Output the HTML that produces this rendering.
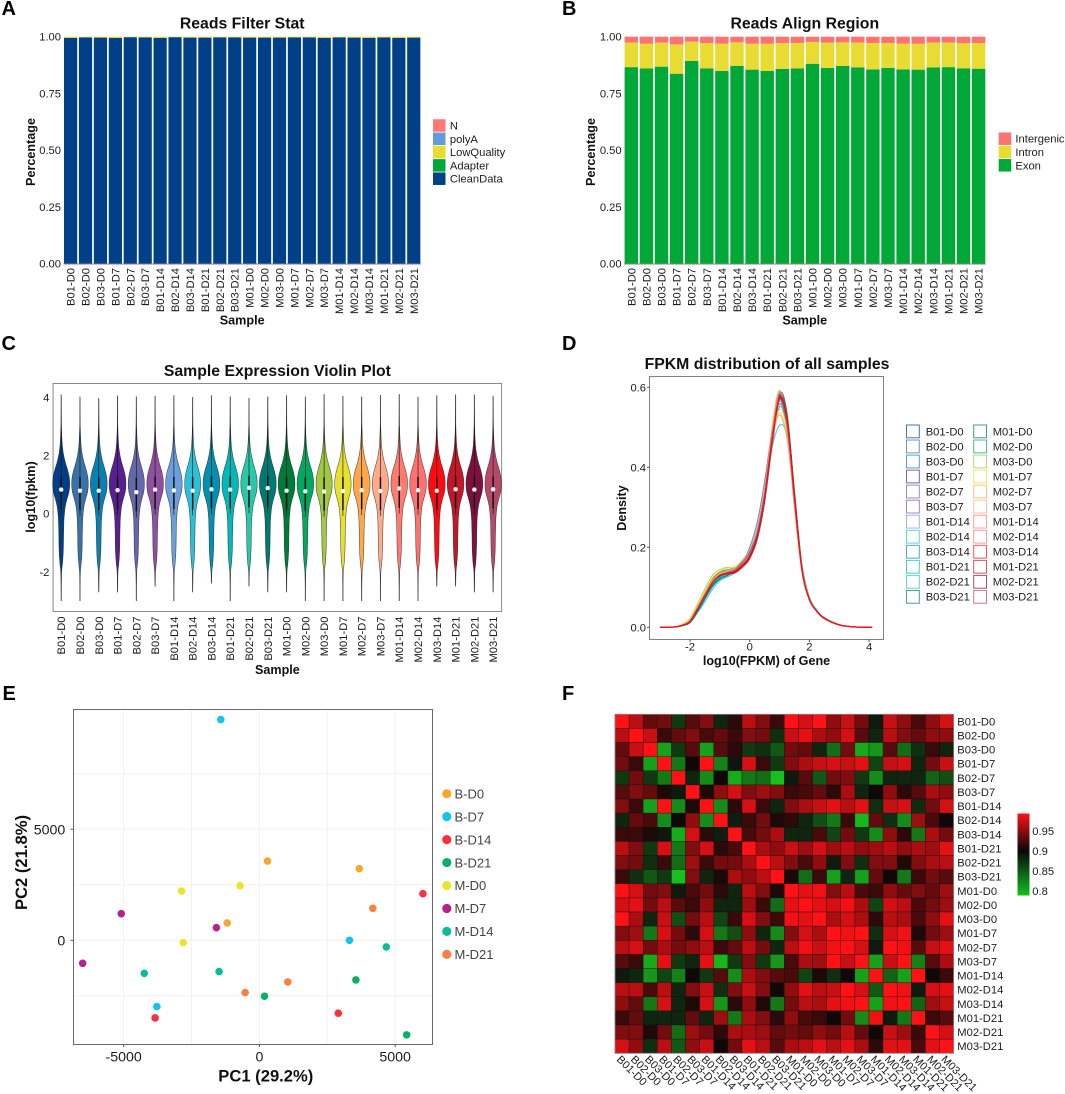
<!DOCTYPE html>
<html lang="en">
<head>
<meta charset="utf-8">
<title>Transcriptome QC figure</title>
<style>
html,body{margin:0;padding:0;background:#fff;}
svg{display:block;font-family:"Liberation Sans",Arial,sans-serif;}
text{fill:#1c1c1c;}
.tick{font-size:11.2px;}
.title{font-size:15.8px;font-weight:700;fill:#111;text-anchor:middle;}
.axis{font-size:12.6px;font-weight:700;fill:#111;text-anchor:middle;}
.panel{font-size:20px;font-weight:700;fill:#000;}
.big{font-size:14.2px;}
.axis-e{font-size:16.6px;font-weight:700;fill:#111;text-anchor:middle;}
</style>
</head>
<body>
<svg id="figure" xmlns="http://www.w3.org/2000/svg" width="1065" height="1094" viewBox="0 0 1065 1094">
  <defs>
    <linearGradient id="heat-gradient" x1="0" y1="0" x2="0" y2="1">
      <stop offset="0" stop-color="#ff1018"/>
      <stop offset="0.46" stop-color="#080808"/>
      <stop offset="1" stop-color="#10c020"/>
    </linearGradient>
  </defs>
  <rect width="1065" height="1094" fill="#fff"/>

  <text class="panel" x="1.5" y="15">A</text>
  <text class="panel" x="562" y="15">B</text>
  <text class="panel" x="1.5" y="350">C</text>
  <text class="panel" x="562" y="350">D</text>
  <text class="panel" x="2.5" y="700">E</text>
  <text class="panel" x="562" y="700">F</text>

  <g id="panel-a">
    <text class="title" x="242.2" y="28.5">Reads Filter Stat</text>
    <text class="axis" x="242.2" y="324.5">Sample</text>
    <text class="axis" transform="translate(34.8 152) rotate(-90)">Percentage</text>
  </g>
  <g id="panel-b">
    <text class="title" x="804.8" y="28.5">Reads Align Region</text>
    <text class="axis" x="804.8" y="324.5">Sample</text>
    <text class="axis" transform="translate(595 152) rotate(-90)">Percentage</text>
  </g>
  <g id="panel-c">
    <text class="title" x="277.4" y="376">Sample Expression Violin Plot</text>
    <rect x="53.1" y="383.5" width="448.5" height="228" fill="none" stroke="#8a8a8a" stroke-width="1"/>
    <text class="axis" x="277.4" y="674">Sample</text>
    <text class="axis" transform="translate(34.8 497) rotate(-90)">log10(fpkm)</text>
  </g>
  <g id="panel-d">
    <text class="title" x="767" y="369">FPKM distribution of all samples</text>
    <rect x="649.5" y="376.5" width="234" height="263" fill="none" stroke="#808080" stroke-width="1"/>
    <text class="axis" x="766.5" y="665">log10(FPKM) of Gene</text>
    <text class="axis" transform="translate(626 508) rotate(-90)">Density</text>
  </g>
  <g id="panel-e">
    <text class="axis-e" x="265.8" y="1081.5">PC1 (29.2%)</text>
    <text class="axis-e" transform="translate(27 862.5) rotate(-90)">PC2 (21.8%)</text>
  </g>
  <g id="panel-f">
    <rect x="1017.5" y="813.5" width="12" height="82" fill="url(#heat-gradient)"/>
  </g>
</svg>

<script>
const samples = ["B01-D0","B02-D0","B03-D0","B01-D7","B02-D7","B03-D7","B01-D14","B02-D14","B03-D14","B01-D21","B02-D21","B03-D21","M01-D0","M02-D0","M03-D0","M01-D7","M02-D7","M03-D7","M01-D14","M02-D14","M03-D14","M01-D21","M02-D21","M03-D21"];
const shareTicks = [0,0.25,0.5,0.75,1];
const shareTickLabels = ["0.00","0.25","0.50","0.75","1.00"];

/* Panel A: reads filter */
const filterCleanData = [0.995,0.997,0.996,0.995,0.998,0.997,0.995,0.998,0.996,0.996,0.997,0.997,0.996,0.996,0.996,0.997,0.997,0.995,0.997,0.996,0.995,0.997,0.995,0.996];
const filterAdapter = [0,0,0,0,0,0,0,0,0,0,0,0,0,0,0,0,0,0,0,0,0,0,0,0];
const filterLowQuality = [0.005,0.003,0.004,0.005,0.002,0.003,0.005,0.002,0.004,0.004,0.003,0.003,0.004,0.004,0.004,0.003,0.003,0.005,0.003,0.004,0.005,0.003,0.005,0.004];
const filterLegend = ["N","polyA","LowQuality","Adapter","CleanData"];
const filterLegendColors = ["#ff7878","#6699d8","#e8dc30","#00a838","#004088"];

/* Panel B: align region */
const alignExon = [0.866,0.860,0.868,0.837,0.893,0.860,0.849,0.872,0.855,0.849,0.858,0.860,0.881,0.862,0.871,0.865,0.856,0.863,0.856,0.855,0.865,0.866,0.860,0.859];
const alignIntron = [0.108,0.109,0.106,0.129,0.085,0.112,0.120,0.103,0.114,0.120,0.114,0.112,0.096,0.112,0.104,0.109,0.116,0.109,0.113,0.114,0.109,0.108,0.111,0.113];
const alignIntergenic = [0.026,0.031,0.026,0.034,0.022,0.028,0.031,0.025,0.031,0.031,0.028,0.028,0.023,0.026,0.025,0.026,0.028,0.028,0.031,0.031,0.026,0.026,0.029,0.028];
const alignLegend = ["Intergenic","Intron","Exon"];
const alignLegendColors = ["#ff7272","#e8dc32","#00a838"];

/* Panel C: violins */
const sampleColors = ["#003f87","#3a72a8","#0a80b0","#5a1f8f","#6468a8","#8f50a0","#6a9fdb","#2cc0d8","#0090b0","#00b8b8","#28c8a8","#007a70","#007a38","#00a860","#a0c840","#e8e030","#ffa84a","#ffaa88","#ff7b70","#ff7070","#ff0a10","#c01828","#7e1040","#b84868"];
const violinMax = [4.10,4.02,3.97,4.06,4.03,4.05,4.07,4.01,4.07,4.03,3.98,4.03,4.07,4.02,4.11,4.05,4.02,4.08,4.11,4.02,4.07,4.10,4.10,4.05];
const violinMin = [-3,-3,-2.7,-2.7,-3,-2.5,-3,-2.7,-2.4,-3,-2.5,-2.7,-2.7,-3,-3,-3,-3,-3,-3,-3,-2.5,-2.5,-2.7,-2.7];
const violinMedian = [0.83,0.79,0.79,0.81,0.74,0.83,0.80,0.79,0.84,0.83,0.89,0.88,0.79,0.77,0.76,0.78,0.81,0.78,0.87,0.81,0.79,0.84,0.83,0.84];
const violinQ1 = [0.17,0.12,0.14,0.16,0.08,0.16,0.16,0.14,0.18,0.18,0.22,0.22,0.13,0.10,0.10,0.12,0.15,0.12,0.20,0.16,0.14,0.18,0.17,0.18];
const violinQ3 = [1.28,1.26,1.26,1.27,1.24,1.28,1.27,1.27,1.29,1.28,1.30,1.30,1.26,1.25,1.25,1.26,1.27,1.26,1.30,1.27,1.26,1.28,1.28,1.28];
const violinPeakWidth = [8.5,8.3,8.4,8.4,8.1,8.3,8.3,8.0,8.4,8.3,8.2,8.4,8.4,8.3,8.1,8.2,8.4,8.1,8.3,8.3,8.4,8.3,8.4,8.2];
const violinProfileLevels = [3.5,3,2.5,2.25,2,1.75,1.5,1.25,1,0.75,0.5,0.25,0,-0.25,-0.5,-0.75,-1,-1.25,-1.5,-1.75,-2,-2.5];
const violinProfileWidths = [0.01,0.03,0.10,0.17,0.30,0.50,0.76,0.95,1,0.92,0.68,0.48,0.38,0.32,0.30,0.28,0.27,0.25,0.21,0.14,0.05,0.01];
const violinTicks = [4,2,0,-2];

/* Panel D: density curves */
const densityX = [-3,-2.5,-2.25,-2,-1.75,-1.5,-1.25,-1,-0.75,-0.5,-0.25,0,0.25,0.5,0.75,1,1.25,1.5,1.75,2,2.25,2.5,3,3.5,4.1];
const densitySeries = [
[0,.001,.005,.014,.044,.078,.112,.132,.138,.142,.158,.184,.232,.33,.472,.582,.512,.316,.144,.07,.04,.023,.006,.001,0],
[0,.001,.005,.013,.042,.074,.106,.126,.134,.14,.162,.19,.244,.345,.482,.566,.5,.31,.146,.071,.04,.023,.006,.001,0],
[0,.001,.005,.013,.041,.075,.108,.128,.134,.138,.156,.182,.23,.326,.47,.58,.518,.322,.146,.07,.04,.023,.006,.001,0],
[0,.001,.005,.014,.043,.077,.11,.131,.138,.143,.158,.186,.238,.335,.476,.578,.51,.316,.145,.07,.04,.023,.006,.001,0],
[0,.001,.006,.016,.047,.084,.118,.136,.14,.14,.162,.2,.262,.365,.49,.56,.49,.305,.146,.072,.041,.023,.006,.001,0],
[0,.001,.005,.015,.045,.079,.112,.132,.138,.144,.16,.184,.232,.332,.476,.578,.51,.316,.144,.069,.04,.022,.006,.001,0],
[0,.001,.004,.012,.038,.07,.1,.12,.128,.138,.16,.19,.24,.335,.465,.55,.505,.325,.152,.073,.042,.024,.006,.001,0],
[0,.001,.004,.011,.036,.064,.094,.116,.126,.136,.162,.194,.248,.345,.45,.505,.478,.328,.158,.076,.043,.024,.007,.001,0],
[0,.001,.004,.012,.039,.071,.102,.12,.13,.142,.158,.178,.222,.318,.46,.578,.53,.335,.15,.072,.041,.023,.006,.001,0],
[0,.001,.004,.012,.038,.07,.104,.124,.132,.144,.164,.184,.226,.318,.455,.57,.528,.34,.152,.072,.042,.024,.006,.001,0],
[0,.001,.005,.014,.042,.076,.108,.126,.134,.146,.168,.19,.228,.315,.45,.555,.522,.34,.155,.074,.042,.024,.006,.001,0],
[0,.001,.004,.012,.04,.073,.104,.122,.13,.144,.156,.174,.218,.312,.458,.584,.536,.338,.15,.071,.041,.023,.006,.001,0],
[0,.001,.006,.017,.05,.086,.12,.138,.14,.14,.158,.186,.236,.335,.478,.572,.5,.308,.142,.069,.04,.022,.006,.001,0],
[0,.001,.006,.016,.048,.084,.118,.138,.144,.148,.162,.184,.23,.328,.472,.575,.506,.312,.144,.07,.04,.022,.006,.001,0],
[0,.001,.008,.022,.058,.096,.13,.144,.15,.148,.158,.18,.232,.335,.47,.53,.47,.31,.148,.072,.04,.022,.006,.001,0],
[0,.001,.007,.02,.054,.09,.124,.14,.148,.152,.166,.184,.228,.32,.46,.545,.49,.316,.147,.07,.04,.022,.006,.001,0],
[0,.001,.006,.018,.05,.085,.118,.136,.142,.146,.16,.18,.232,.34,.5,.592,.498,.298,.136,.067,.039,.022,.006,.001,0],
[0,.001,.006,.017,.048,.082,.114,.132,.14,.146,.168,.194,.245,.345,.475,.535,.475,.31,.148,.072,.041,.023,.006,.001,0],
[0,.001,.005,.015,.045,.079,.112,.13,.136,.142,.16,.182,.232,.332,.48,.59,.51,.31,.142,.069,.04,.022,.006,.001,0],
[0,.001,.005,.015,.046,.08,.112,.13,.137,.143,.16,.184,.234,.334,.482,.585,.508,.31,.143,.069,.04,.022,.006,.001,0],
[0,.001,.005,.015,.046,.08,.112,.13,.134,.136,.15,.172,.225,.32,.462,.572,.525,.33,.146,.07,.04,.022,.006,.001,0],
[0,.001,.005,.014,.044,.078,.11,.13,.135,.14,.155,.178,.228,.325,.468,.576,.52,.325,.145,.07,.04,.023,.006,.001,0],
[0,.001,.005,.015,.045,.079,.11,.128,.134,.138,.152,.176,.228,.326,.47,.572,.516,.322,.145,.07,.04,.023,.006,.001,0],
[0,.001,.005,.014,.044,.078,.11,.13,.137,.144,.162,.186,.236,.335,.475,.57,.505,.318,.146,.071,.041,.023,.006,.001,0]
];
const densityXTicks = [-2,0,2,4];
const densityYTicks = [0,0.2,0.4,0.6];
const densityYTickLabels = ["0.0","0.2","0.4","0.6"];

/* Panel E: PCA */
const pcaGroups = ["B-D0","B-D7","B-D14","B-D21","M-D0","M-D7","M-D14","M-D21"];
const pcaColors = ["#f5a82e","#12c5ec","#f93040","#0aaf6a","#ebe32f","#b4238c","#0cbc98","#f98148"];
const pcaPC1 = [[299,3679,-1185],[-1422,3317,-3778],[6023,-3841,2906],[3554,187,5424],[-2868,-711,-2806],[-5088,-1584,-6509],[-4240,-1484,4676],[4177,1047,-524]];
const pcaPC2 = [[3570,3225,780],[9945,0,-2985],[2100,-3495,-3285],[-1785,-2520,-4260],[2220,2460,-105],[1200,570,-1035],[-1485,-1410,-300],[1440,-1875,-2355]];
const pcaXTicks = [-5000,0,5000];
const pcaYTicks = [0,5000];
const pcaXGrid = [-5000,-2500,0,2500,5000];
const pcaYGrid = [-2500,0,2500,5000,7500];

/* Panel F: heatmap */
const heatmapValues = [
[.97,.945,.915,.92,.865,.91,.925,.875,.895,.945,.925,.90,.97,.955,.97,.93,.95,.92,.88,.95,.93,.905,.93,.955],
[.945,.97,.95,.90,.915,.925,.905,.915,.90,.925,.92,.87,.95,.96,.94,.93,.955,.91,.875,.945,.925,.915,.93,.93],
[.915,.95,.97,.815,.865,.91,.815,.91,.895,.865,.87,.85,.92,.915,.875,.84,.92,.81,.82,.91,.84,.87,.90,.875],
[.92,.90,.815,.97,.835,.885,.97,.83,.882,.955,.90,.865,.925,.94,.95,.955,.95,.96,.86,.95,.955,.875,.92,.95],
[.865,.92,.865,.835,.97,.875,.825,.885,.81,.835,.84,.80,.88,.91,.85,.92,.925,.865,.825,.875,.875,.875,.845,.855],
[.91,.925,.915,.89,.88,.97,.89,.93,.955,.925,.935,.925,.90,.905,.915,.895,.94,.875,.885,.93,.895,.91,.94,.93],
[.925,.90,.815,.97,.825,.89,.97,.825,.895,.955,.90,.875,.925,.94,.95,.96,.945,.96,.87,.95,.955,.872,.92,.955],
[.875,.915,.905,.825,.885,.93,.825,.97,.878,.90,.92,.89,.895,.875,.855,.835,.90,.805,.915,.87,.825,.935,.905,.885],
[.90,.90,.89,.882,.81,.955,.895,.878,.97,.905,.92,.94,.875,.875,.905,.86,.92,.865,.825,.93,.895,.835,.94,.92],
[.945,.925,.865,.955,.835,.925,.955,.895,.905,.97,.94,.93,.95,.935,.955,.935,.945,.93,.935,.945,.93,.94,.935,.96],
[.925,.92,.87,.90,.84,.935,.90,.92,.92,.94,.97,.945,.925,.905,.93,.88,.925,.87,.925,.925,.89,.925,.94,.945],
[.90,.87,.85,.865,.80,.925,.875,.89,.94,.93,.945,.97,.888,.84,.90,.815,.875,.815,.915,.885,.835,.90,.92,.91],
[.97,.955,.92,.925,.88,.905,.92,.895,.875,.945,.925,.89,.97,.96,.965,.925,.945,.905,.90,.93,.915,.925,.915,.935],
[.955,.96,.92,.945,.91,.90,.93,.875,.875,.935,.90,.84,.96,.97,.96,.955,.965,.94,.86,.955,.945,.905,.92,.935],
[.97,.94,.875,.95,.855,.92,.945,.86,.90,.955,.925,.90,.965,.96,.97,.94,.955,.94,.895,.945,.94,.905,.93,.96],
[.925,.935,.835,.955,.92,.895,.955,.835,.855,.93,.875,.825,.925,.955,.94,.97,.965,.97,.87,.955,.965,.89,.92,.935],
[.945,.955,.92,.94,.92,.93,.945,.90,.915,.945,.92,.875,.945,.965,.95,.965,.97,.955,.88,.97,.965,.91,.95,.96],
[.91,.90,.81,.96,.865,.875,.96,.805,.865,.925,.865,.82,.905,.94,.935,.97,.95,.97,.815,.95,.97,.83,.91,.94],
[.88,.875,.82,.86,.83,.885,.865,.91,.825,.94,.925,.91,.905,.86,.89,.87,.885,.815,.97,.845,.815,.97,.885,.90],
[.945,.945,.905,.945,.875,.925,.95,.87,.925,.95,.925,.885,.93,.96,.945,.95,.97,.955,.85,.97,.965,.88,.955,.96],
[.93,.915,.835,.955,.875,.89,.955,.82,.895,.93,.89,.835,.92,.945,.94,.96,.965,.97,.815,.965,.97,.845,.935,.95],
[.90,.915,.875,.875,.875,.915,.875,.935,.835,.94,.925,.895,.93,.905,.90,.885,.92,.825,.965,.88,.835,.97,.90,.91],
[.925,.925,.89,.92,.84,.935,.92,.895,.94,.94,.935,.915,.92,.915,.93,.92,.945,.915,.885,.95,.935,.90,.97,.955],
[.955,.93,.87,.945,.85,.93,.95,.885,.92,.96,.945,.91,.94,.945,.96,.945,.96,.94,.895,.96,.96,.905,.96,.97]
];
const colorbarTicks = [0.8,0.85,0.9,0.95];
const colorbarTickLabels = ["0.8","0.85","0.9","0.95"];

const SVGNS = "http://www.w3.org/2000/svg";
function make(tag, parent, attrs, content) {
  const node = document.createElementNS(SVGNS, tag);
  for (const key in attrs) node.setAttribute(key, attrs[key]);
  if (content !== undefined) node.textContent = content;
  parent.appendChild(node);
  return node;
}
function smoothSegments(pts) {
  let d = "";
  for (let i = 0; i < pts.length - 1; i++) {
    const p0 = pts[i - 1] || pts[i], p1 = pts[i], p2 = pts[i + 1], p3 = pts[i + 2] || p2;
    const c1x = p1[0] + (p2[0] - p0[0]) / 6, c1y = p1[1] + (p2[1] - p0[1]) / 6;
    const c2x = p2[0] - (p3[0] - p1[0]) / 6, c2y = p2[1] - (p3[1] - p1[1]) / 6;
    d += "C" + c1x.toFixed(2) + " " + c1y.toFixed(2) + " " + c2x.toFixed(2) + " " + c2y.toFixed(2) + " " + p2[0].toFixed(2) + " " + p2[1].toFixed(2);
  }
  return d;
}
function legendSquares(parent, names, colors, boxX, firstY, stepY, textX) {
  names.forEach(function (name, i) {
    const key = make("rect", parent, {x: boxX, y: firstY + stepY * i - stepY / 2 + 0.4, width: 12.5, height: stepY - 0.8, fill: colors[i]});
    
    
    const label = make("text", parent, {class: "tick", x: textX, y: firstY + stepY * i + 4}, name);
    
    
  });
}
function stackedPanel(parent, left, pitch, barW, seriesList, colorList, seriesNames) {
  const xBand = function (i) { return left + pitch * i; };
  const yShare = function (v) { return 263.7 - 227 * v; };
  samples.forEach(function (name, i) {
    let acc = 0;
    seriesList.forEach(function (values, s) {
      const bar = make("rect", parent, {x: xBand(i), y: yShare(acc + values[i]), width: barW, height: yShare(acc) - yShare(acc + values[i]), fill: colorList[s]});
      
      
      acc += values[i];
    });
    const label = make("text", parent, {class: "tick", transform: "translate(" + (xBand(i) + barW / 2 + 4) + " 268) rotate(-90)", "text-anchor": "end"}, name);
    
    
  });
  const base = make("line", parent, {x1: left - 0.5, x2: xBand(23) + barW + 0.5, y1: 264, y2: 264, stroke: "#808080"});
  
  
  shareTicks.forEach(function (t, i) {
    const label = make("text", parent, {class: "tick", x: left - 3, y: yShare(t) + 4, "text-anchor": "end"}, shareTickLabels[i]);
    
    
  });
}

/* A */
const gA = document.getElementById("panel-a");
stackedPanel(gA, 64, 14.92, 13.2, [filterCleanData, filterAdapter, filterLowQuality], ["#004088", "#00a838", "#e8dc30"], ["cleandata", "adapter", "lowquality"]);
legendSquares(gA, filterLegend, filterLegendColors, 433, 125.5, 13.3, 449.9);

/* B */
const gB = document.getElementById("panel-b");
stackedPanel(gB, 624.6, 15.1, 13.4, [alignExon, alignIntron, alignIntergenic], ["#00a838", "#e8dc32", "#ff7272"], ["exon", "intron", "intergenic"]);
legendSquares(gB, alignLegend, alignLegendColors, 998.7, 138.7, 13.3, 1015.4);

/* C */
const gC = document.getElementById("panel-c");
const xViolin = function (i) { return 61.2 + 18.78 * i; };
const yViolin = function (v) { return 513.7 - 29.08 * v; };
violinTicks.forEach(function (t) {
  const label = make("text", gC, {class: "tick", x: 49.4, y: yViolin(t) + 4, "text-anchor": "end"}, String(t));
  
  
});
samples.forEach(function (name, i) {
  const cx = xViolin(i);
  const whisker = make("line", gC, {x1: cx, x2: cx, y1: yViolin(violinMax[i]), y2: yViolin(violinMin[i]), stroke: "#777", "stroke-width": 1});
  
  
  const right = [[cx, yViolin(violinMax[i])]];
  const left = [[cx, yViolin(violinMax[i])]];
  violinProfileLevels.forEach(function (level, k) {
    if (level < violinMax[i] && level > violinMin[i]) {
      const half = violinPeakWidth[i] * violinProfileWidths[k];
      right.push([cx + half, yViolin(level)]);
      left.push([cx - half, yViolin(level)]);
    }
  });
  right.push([cx, yViolin(violinMin[i])]);
  left.push([cx, yViolin(violinMin[i])]);
  const d = "M" + right[0][0] + " " + right[0][1] + smoothSegments(right) + smoothSegments(left.reverse()) + "Z";
  const violin = make("path", gC, {d: d, fill: sampleColors[i], stroke: "#222", "stroke-width": 0.55, "stroke-opacity": 0.8});
  
  
  const thin = make("line", gC, {x1: cx, x2: cx, y1: yViolin(violinQ3[i] + 1.7), y2: yViolin(violinQ1[i] - 0.2), stroke: "#111", "stroke-width": 0.7, "stroke-opacity": 0.85});
  
  
  const box = make("line", gC, {x1: cx, x2: cx, y1: yViolin(violinQ3[i]), y2: yViolin(violinQ1[i]), stroke: "#111", "stroke-width": 1.5});
  
  
  const med = make("circle", gC, {cx: cx, cy: yViolin(violinMedian[i]), r: 2.2, fill: "#fff"});
  
  
  const label = make("text", gC, {class: "tick", transform: "translate(" + (cx + 4) + " 616.5) rotate(-90)", "text-anchor": "end"}, name);
  
  
});

/* D */
const gD = document.getElementById("panel-d");
const xDensity = function (v) { return 749.7 + 29.85 * v; };
const yDensity = function (v) { return 627.3 - 400 * v; };
densityXTicks.forEach(function (t) {
  const mark = make("line", gD, {x1: xDensity(t), x2: xDensity(t), y1: 639.5, y2: 642, stroke: "#555"});
  
  
  const label = make("text", gD, {class: "tick", x: xDensity(t), y: 650.7, "text-anchor": "middle"}, String(t));
  
  
});
densityYTicks.forEach(function (t, i) {
  const mark = make("line", gD, {x1: 647, x2: 649.5, y1: yDensity(t), y2: yDensity(t), stroke: "#555"});
  
  
  const label = make("text", gD, {class: "tick", x: 646, y: yDensity(t) + 4, "text-anchor": "end"}, densityYTickLabels[i]);
  
  
});
samples.map(function (_, i) { return i; }).filter(function (i) { return i !== 20; }).concat([20]).forEach(function (i) {
  const pts = densitySeries[i].map(function (d, k) { return [xDensity(densityX[k]), yDensity(d)]; });
  const line = make("path", gD, {d: "M" + pts[0][0] + " " + pts[0][1] + smoothSegments(pts), fill: "none", stroke: sampleColors[i], "stroke-width": i === 20 ? 1.4 : 1, "stroke-opacity": 0.85});
  
  
});
samples.forEach(function (name, i) {
  const col = i < 12 ? 0 : 1;
  const row = i % 12;
  const keyY = 431.3 + 15.04 * row;
  const keyX = col === 0 ? 906.5 : 973.7;
  const textX = col === 0 ? 925.7 : 992.7;
  const key = make("rect", gD, {x: keyX, y: keyY - 6.3, width: 12.8, height: 12.8, fill: "#fff", stroke: sampleColors[i], "stroke-width": 1, "stroke-opacity": 0.72});
  
  
  const label = make("text", gD, {class: "tick", x: textX, y: keyY + 4}, name);
  
  
});

/* E */
const gE = document.getElementById("panel-e");
const xPca = function (v) { return 259.4 + 0.02715 * v; };
const yPca = function (v) { return 940.3 - 0.0222 * v; };
pcaXGrid.forEach(function (v) {
  const line = make("line", gE, {x1: xPca(v), x2: xPca(v), y1: 710, y2: 1044, stroke: "#f1f1f1"});
  
  
});
pcaYGrid.forEach(function (v) {
  const line = make("line", gE, {x1: 73.5, x2: 432.5, y1: yPca(v), y2: yPca(v), stroke: "#f1f1f1"});
  
  
});
const frameE = make("rect", gE, {x: 73.5, y: 709.5, width: 359, height: 335, fill: "none", stroke: "#6a6a6a", "stroke-width": 1});


pcaXTicks.forEach(function (t) {
  const mark = make("line", gE, {x1: xPca(t), x2: xPca(t), y1: 1044.5, y2: 1047, stroke: "#555"});
  
  
  const label = make("text", gE, {class: "tick big", x: xPca(t), y: 1061.5, "text-anchor": "middle"}, String(t));
  
  
});
pcaYTicks.forEach(function (t) {
  const mark = make("line", gE, {x1: 70.5, x2: 73.5, y1: yPca(t), y2: yPca(t), stroke: "#555"});
  
  
  const label = make("text", gE, {class: "tick big", x: 65.3, y: yPca(t) + 5, "text-anchor": "end"}, String(t));
  
  
});
pcaGroups.forEach(function (group, g) {
  pcaPC1[g].forEach(function (pc1, k) {
    const dot = make("circle", gE, {cx: xPca(pc1), cy: yPca(pcaPC2[g][k]), r: 3.8, fill: pcaColors[g]});
    
    
  });
  const legendY = 793.7 + 22.95 * g;
  const key = make("circle", gE, {cx: 446.8, cy: legendY, r: 4.6, fill: pcaColors[g]});
  
  
  const label = make("text", gE, {x: 454.5, y: legendY + 4.7, "font-size": 13, style: "fill:#444"}, group);
  
  
});

/* F */
const gF = document.getElementById("panel-f");
const cellW = 14.11;
const cellH = 14.125;
const xHeat = function (c) { return 615 + cellW * c; };
const yHeat = function (r) { return 714.3 + cellH * r; };
const yColorbar = function (v) { return 891 - (v - 0.8) * 400; };
function heatColor(v) {
  if (v >= 0.885) {
    const t = Math.min(1, (v - 0.885) / 0.085);
    return "rgb(" + Math.round(16 + 239 * t) + "," + Math.round(8 + 10 * t) + "," + Math.round(8 + 14 * t) + ")";
  }
  const t = Math.min(1, (0.885 - v) / 0.085);
  return "rgb(" + Math.round(14 + 10 * t) + "," + Math.round(16 + 176 * t) + "," + Math.round(14 + 16 * t) + ")";
}
heatmapValues.forEach(function (row, r) {
  row.forEach(function (v, c) {
    const cell = make("rect", gF, {x: xHeat(c), y: yHeat(r), width: cellW, height: cellH, fill: heatColor(v), stroke: "#000", "stroke-width": 0.5, "stroke-opacity": 0.6});
    
    
  });
});
const frameF = make("rect", gF, {x: 615, y: 714.3, width: cellW * 24, height: cellH * 24, fill: "none", stroke: "#8a8a8a", "stroke-width": 0.8});


samples.forEach(function (name, i) {
  const rowLabel = make("text", gF, {class: "tick", x: 957.3, y: yHeat(i) + cellH / 2 + 4}, name);
  
  
  const colLabel = make("text", gF, {class: "tick", style: "font-size:11px", transform: "translate(" + (xHeat(i) + cellW / 2 - 6) + " 1060) rotate(45)"}, name);
  
  
});
colorbarTicks.forEach(function (t, i) {
  const label = make("text", gF, {class: "tick", x: 1032.3, y: yColorbar(t) + 4}, colorbarTickLabels[i]);
  
  
});
</script>
</body>
</html>
